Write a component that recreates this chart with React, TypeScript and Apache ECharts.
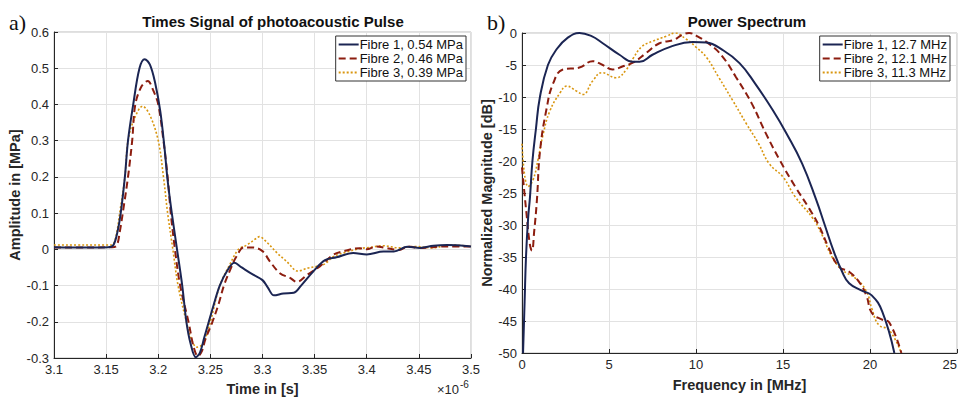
import React, { useEffect, useRef } from "react";
import * as echarts from "echarts";

// ---------- data (time in µs, amplitude in MPa) ----------
const timeTicks = { min: 3.1, max: 3.5, interval: 0.05 };
const ampTicks = { min: -0.3, max: 0.6, interval: 0.1 };
const freqTicks = { min: 0, max: 25, interval: 5 };
const dbTicks = { min: -50, max: 0, interval: 5 };

const timeLegend = ["Fibre 1, 0.54 MPa", "Fibre 2, 0.46 MPa", "Fibre 3, 0.39 MPa"];
const specLegend = ["Fibre 1, 12.7 MHz", "Fibre 2, 12.1 MHz", "Fibre 3, 11.3 MHz"];

const pulseFibre1: number[][] = [
  [3.1, 0.006], [3.13, 0.005], [3.152, 0.006], [3.157, 0.012], [3.161, 0.05], [3.164, 0.1],
  [3.168, 0.2], [3.171, 0.3], [3.176, 0.4], [3.182, 0.5], [3.187, 0.525], [3.192, 0.51],
  [3.197, 0.46], [3.202, 0.38], [3.206, 0.28], [3.209, 0.19], [3.213, 0.1], [3.218, 0],
  [3.223, -0.1], [3.227, -0.2], [3.231, -0.26], [3.236, -0.298], [3.24, -0.285], [3.244, -0.245],
  [3.248, -0.205], [3.253, -0.155], [3.259, -0.1], [3.266, -0.06], [3.273, -0.037], [3.28, -0.05],
  [3.291, -0.07], [3.3, -0.085], [3.305, -0.105], [3.311, -0.127], [3.32, -0.122], [3.33, -0.12],
  [3.337, -0.1], [3.349, -0.06], [3.36, -0.03], [3.371, -0.022], [3.387, -0.01], [3.4, -0.014],
  [3.416, -0.006], [3.426, -0.006], [3.439, 0.007], [3.451, 0.004], [3.464, 0.01], [3.477, 0.012],
  [3.5, 0.008],
];
const pulseFibre2: number[][] = [
  [3.1, 0.005], [3.13, 0.005], [3.155, 0.006], [3.16, 0.01], [3.163, 0.047], [3.167, 0.12],
  [3.171, 0.2], [3.175, 0.3], [3.178, 0.4], [3.184, 0.45], [3.19, 0.465], [3.195, 0.44],
  [3.2, 0.4], [3.205, 0.3], [3.209, 0.2], [3.212, 0.1], [3.216, 0], [3.221, -0.1],
  [3.229, -0.2], [3.234, -0.27], [3.238, -0.295], [3.242, -0.28], [3.245, -0.25], [3.252, -0.2],
  [3.258, -0.15], [3.263, -0.1], [3.27, -0.05], [3.275, -0.02], [3.282, 0.005], [3.291, 0.005],
  [3.3, -0.005], [3.307, -0.033], [3.317, -0.067], [3.326, -0.078], [3.333, -0.09], [3.343, -0.07],
  [3.355, -0.047], [3.368, -0.015], [3.377, -0.006], [3.393, 0.003], [3.4, 0], [3.409, 0.008],
  [3.418, 0.004], [3.431, -0.002], [3.44, 0.008], [3.45, 0.004], [3.477, 0.008], [3.5, 0.008],
];
const pulseFibre3: number[][] = [
  [3.1, 0.012], [3.13, 0.012], [3.155, 0.012], [3.159, 0.03], [3.163, 0.1], [3.168, 0.2],
  [3.171, 0.3], [3.177, 0.36], [3.185, 0.395], [3.192, 0.37], [3.2, 0.3], [3.205, 0.2],
  [3.209, 0.1], [3.214, 0], [3.219, -0.1], [3.227, -0.2], [3.232, -0.25], [3.237, -0.27],
  [3.243, -0.26], [3.25, -0.2], [3.259, -0.1], [3.269, -0.04], [3.277, 0], [3.285, 0.012],
  [3.294, 0.03], [3.297, 0.035], [3.304, 0.02], [3.314, -0.01], [3.323, -0.033], [3.334, -0.06],
  [3.343, -0.052], [3.352, -0.047], [3.36, -0.04], [3.368, -0.02], [3.38, -0.008], [3.393, 0.002],
  [3.402, 0.005], [3.416, 0.01], [3.431, 0.004], [3.447, 0.008], [3.462, 0.004], [3.481, 0.012],
  [3.5, 0.008],
];

// ---------- data (frequency in MHz, magnitude in dB) ----------
const specFibre1: number[][] = [
  [0.06, -50], [0.15, -42], [0.23, -35], [0.35, -29], [0.46, -25.6], [0.6, -20], [0.8, -15],
  [1.03, -10], [1.49, -5], [2.0, -2.5], [2.6, -0.8], [3.3, 0], [4.0, -0.5], [4.64, -1.6],
  [5.6, -3.4], [6.36, -4.5], [6.76, -4.5], [7.5, -3.4], [8.48, -2.2], [9.8, -1.4], [10.6, -1.5],
  [11.5, -2.6], [12.5, -4.7], [13.4, -7.9], [14.4, -12], [15.2, -15.7], [16.1, -20.4], [16.9, -26],
  [17.4, -30], [17.9, -34], [18.4, -37.3], [18.8, -39.1], [19.5, -40.2], [20.1, -41], [20.7, -43.5],
  [21.4, -50],
];
const specFibre2: number[][] = [
  [0, -21], [0.25, -28], [0.45, -33], [0.57, -34], [0.7, -31], [0.86, -26], [1.03, -18.6],
  [1.4, -12], [1.8, -7.8], [2.35, -5.7], [3.3, -5.4], [4.06, -4.4], [4.64, -5.0], [5.2, -5.7],
  [5.8, -5.2], [6.4, -4.6], [7.15, -3.1], [7.9, -1.6], [8.7, -1.1], [9.2, -0.3], [9.6, 0],
  [10, -0.4], [10.8, -1.8], [11.5, -3.6], [12.3, -6.9], [13.2, -11], [14.0, -15.6], [14.8, -19.8],
  [15.7, -24], [16.5, -27.4], [17.1, -30.3], [17.6, -33.4], [18.2, -36.5], [18.8, -37.3],
  [19.4, -39], [19.8, -41.1], [20.1, -43.7], [20.7, -44.8], [21.1, -45.2], [21.8, -50],
];
const specFibre3: number[][] = [
  [0, -17.3], [0.35, -24], [0.63, -23], [0.92, -19.8], [1.2, -16], [1.6, -12.2], [2.2, -9.3],
  [2.57, -8.3], [3.15, -9.1], [3.5, -9.6], [4.06, -7.5], [4.6, -6.2], [5.4, -7.0], [6.0, -5.7],
  [6.4, -3.9], [6.9, -2.1], [7.5, -1.3], [8.3, -0.5], [8.8, 0], [9.4, -0.9], [10, -2.2],
  [10.6, -3.8], [11.3, -6.9], [12.1, -10.5], [12.9, -14.2], [13.6, -17.3], [14.2, -20.4],
  [15.0, -22.5], [15.7, -25.6], [16.7, -28.9], [17.2, -31.3], [17.8, -34.9], [18.4, -37],
  [19.2, -38.4], [19.8, -40.4], [20.1, -43], [20.5, -45.6], [21.1, -46.4], [21.8, -50],
];

const COLORS = ["#1b2553", "#8c1d0f", "#d9960f"];
const FONT = "Liberation Sans, Arial, sans-serif";
const AXIS_DARK = "#262626";

function lineStyleFor(i: number) {
  if (i === 0) return { color: COLORS[0], width: 2, type: "solid" as const };
  if (i === 1) return { color: COLORS[1], width: 2, type: [7, 4] as any };
  return { color: COLORS[2], width: 1.6, type: [2, 2] as any };
}

function makeSeries(data: number[][], name: string, i: number, axisIndex: number, smooth: number) {
  return {
    type: "line",
    name,
    xAxisIndex: axisIndex,
    yAxisIndex: axisIndex,
    data,
    symbol: "none",
    showSymbol: false,
    smooth,
    lineStyle: lineStyleFor(i),
    itemStyle: { color: COLORS[i] },
    z: 5 - i,
  };
}

function axisCommon(labelMargin: number) {
  return {
    type: "value" as const,
    axisLine: { show: true, onZero: false, lineStyle: { color: AXIS_DARK, width: 1 } },
    axisTick: { show: true, inside: true, length: 4, lineStyle: { color: AXIS_DARK } },
    axisLabel: { color: AXIS_DARK, fontSize: 13, fontFamily: FONT, margin: labelMargin },
    splitLine: { show: true, lineStyle: { color: "#e2e2e2", width: 1 } },
    nameLocation: "middle" as const,
    nameTextStyle: { color: AXIS_DARK, fontSize: 14.5, fontWeight: "bold" as const, fontFamily: FONT },
  };
}

export default function App() {
  const ref = useRef<HTMLDivElement>(null);

  useEffect(() => {
    if (!ref.current) return;
    const chart = echarts.init(ref.current, undefined, { renderer: "svg" });
    const legendCommon = {
      orient: "vertical" as const,
      top: 36,
      itemWidth: 20,
      itemHeight: 10,
      itemGap: 1,
      padding: [2, 3, 2, 2],
      borderColor: "#333",
      borderWidth: 1,
      backgroundColor: "#fff",
      borderRadius: 0,
      selectedMode: false,
      itemStyle: { opacity: 0, borderWidth: 0 },
      textStyle: { fontSize: 13, fontFamily: FONT, color: "#111", lineHeight: 11, padding: [0, 0, 0, -4] },
    };
    const freqAxis = axisCommon(5);
    chart.setOption({
      animation: false,
      backgroundColor: "#fff",
      title: [
        {
          text: "Times Signal of photoacoustic Pulse",
          left: 268,
          top: 9,
          textAlign: "center",
          textStyle: { fontSize: 15, fontWeight: "bold", fontFamily: FONT, color: "#111" },
        },
        {
          text: "Power Spectrum",
          left: 742,
          top: 9,
          textAlign: "center",
          textStyle: { fontSize: 15, fontWeight: "bold", fontFamily: FONT, color: "#111" },
        },
      ],
      legend: [
        { ...legendCommon, right: 496, data: timeLegend },
        { ...legendCommon, right: 12, data: specLegend },
      ],
      grid: [
        {
          left: 54, top: 32, width: 417, height: 326, show: true, borderColor: "#bdbdbd", borderWidth: 1,
          containLabel: false, outerBoundsMode: "none",
        },
        {
          left: 522, top: 33, width: 435, height: 320, show: true, borderColor: "#bdbdbd", borderWidth: 1,
          containLabel: false, outerBoundsMode: "none",
        },
      ],
      xAxis: [
        { ...axisCommon(5), gridIndex: 0, ...timeTicks, name: "Time in [s]", nameGap: 23 },
        {
          ...freqAxis,
          axisLabel: { ...freqAxis.axisLabel, alignMaxLabel: "right" },
          gridIndex: 1,
          ...freqTicks,
          name: "Frequency in [MHz]",
          nameGap: 24,
        },
      ],
      yAxis: [
        { ...axisCommon(5), gridIndex: 0, ...ampTicks, name: "Amplitude in [MPa]", nameGap: 25 },
        { ...axisCommon(5), gridIndex: 1, ...dbTicks, name: "Normalized Magnitude [dB]", nameGap: 25 },
      ],
      series: [
        makeSeries(pulseFibre1, timeLegend[0], 0, 0, 0.35),
        makeSeries(pulseFibre2, timeLegend[1], 1, 0, 0.35),
        makeSeries(pulseFibre3, timeLegend[2], 2, 0, 0.35),
        makeSeries(specFibre1, specLegend[0], 0, 1, 0.45),
        makeSeries(specFibre2, specLegend[1], 1, 1, 0.45),
        makeSeries(specFibre3, specLegend[2], 2, 1, 0.45),
      ],
      graphic: [
        {
          type: "text",
          left: 9,
          top: 11,
          style: { text: "a)", fontSize: 22, fontFamily: "Liberation Serif, serif", fill: "#111" },
        },
        {
          type: "text",
          left: 487,
          top: 11,
          style: { text: "b)", fontSize: 22, fontFamily: "Liberation Serif, serif", fill: "#111" },
        },
        {
          type: "text",
          left: 437,
          top: 383,
          style: { text: "×10", fontSize: 13, fontFamily: FONT, fill: AXIS_DARK },
        },
        {
          type: "text",
          left: 460,
          top: 379,
          style: { text: "-6", fontSize: 10, fontFamily: FONT, fill: AXIS_DARK },
        },
      ],
    });
    return () => chart.dispose();
  }, []);

  return (
    <div
      ref={ref}
      style={{ position: "fixed", left: 0, top: 0, width: 962, height: 398, background: "#fff" }}
    />
  );
}
